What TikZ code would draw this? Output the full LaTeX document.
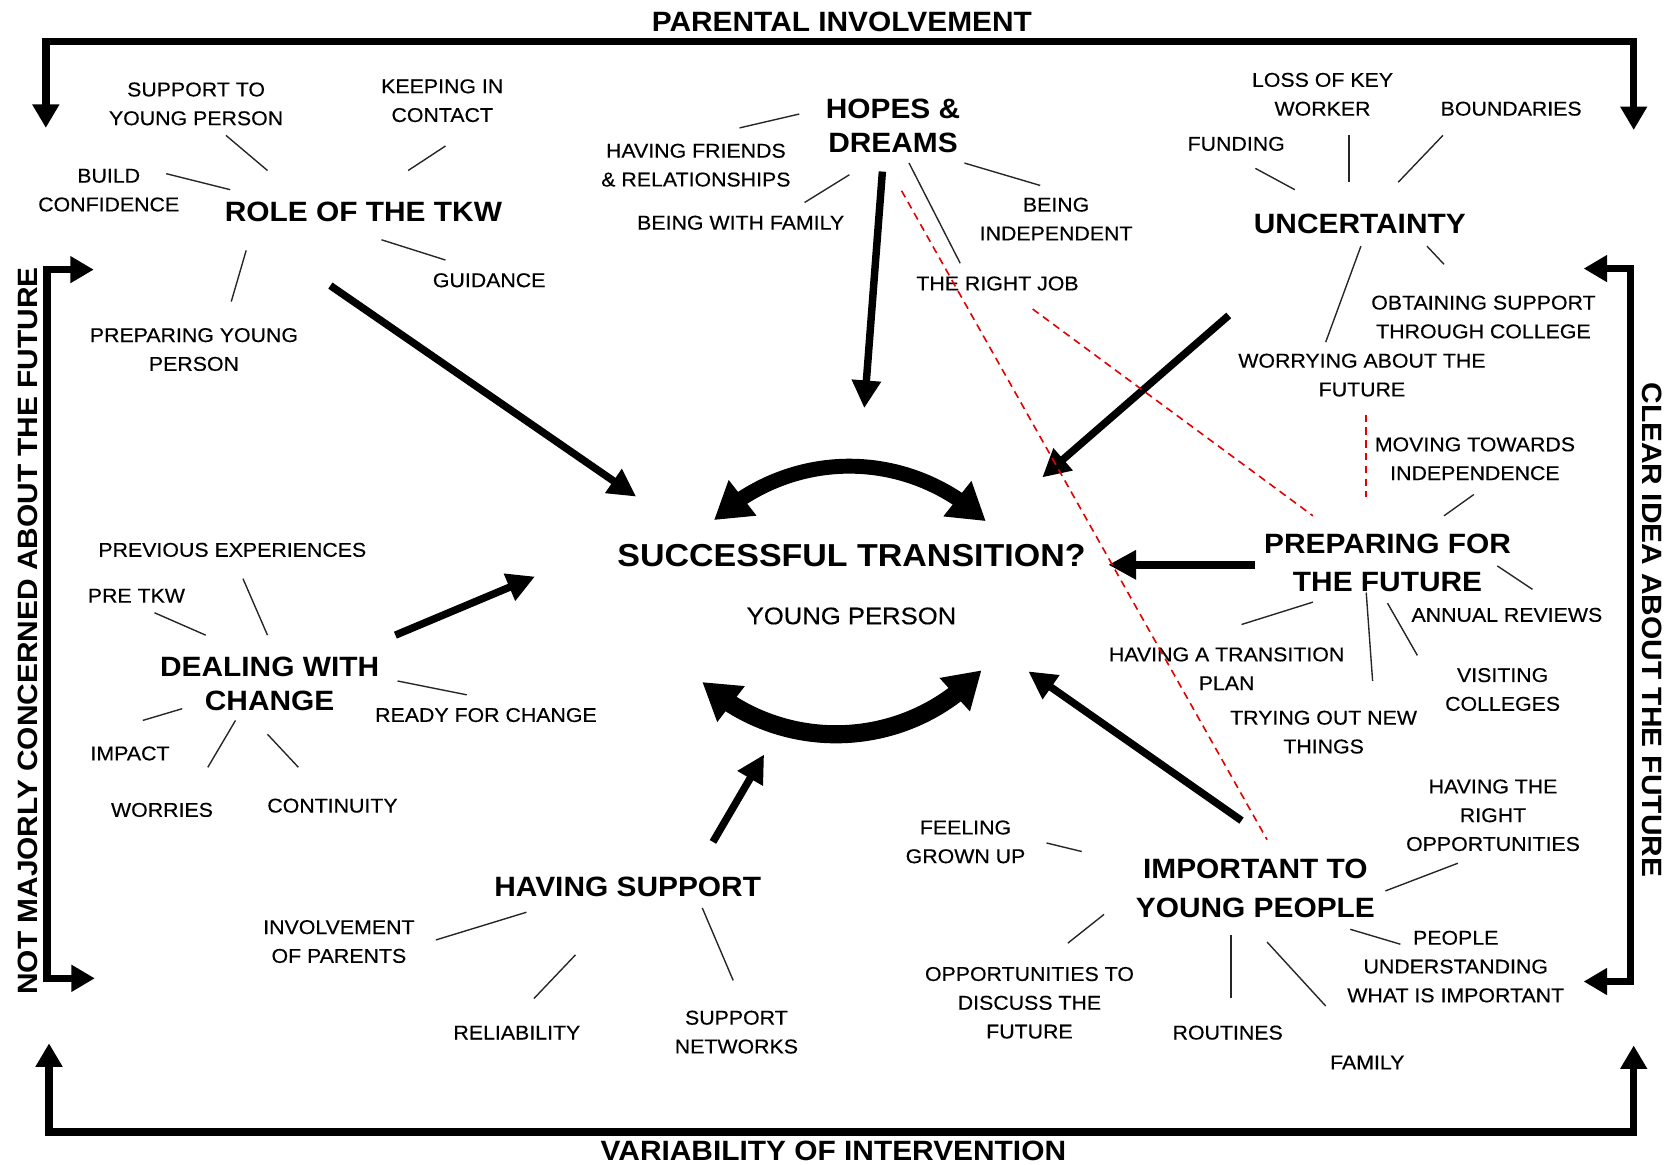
\documentclass[tikz,border=0pt]{standalone}
\usepackage{fontspec}
\setmainfont[FakeStretch=1.07]{Liberation Sans}
\newfontfamily\lblfont[FakeStretch=1.07,FakeBold=0.35]{Liberation Sans}
\usetikzlibrary{arrows.meta,bending}

\begin{document}
\begin{tikzpicture}[x=1pt,y=-1pt,
  lbl/.style={font=\lblfont\fontsize{18.7}{27}\selectfont, align=center, inner sep=0pt, text=black},
  head/.style={font=\bfseries\fontsize{26.2}{32}\selectfont, align=center, inner sep=0pt},
  spoke/.style={line width=1.3pt, black!85},
  flow/.style={line width=7pt, -{Triangle[width=26pt,length=26pt]}},
  rail/.style={line width=7pt, line join=miter, line cap=butt},
  railtip/.tip={Triangle[width=24pt,length=22pt]},
  swingtip/.tip={Triangle[width=40pt,length=34pt]},
  link/.style={draw=red!90!black, line width=1.5pt, dash pattern=on 7pt off 5pt}
]
% canvas
\fill[white] (0,0) rectangle (1568,1093);
\useasboundingbox (0,0) rectangle (1568,1093);

% ---------- outer frame with the four axis labels ----------
\coordinate (tl) at (43,120);  \coordinate (tr) at (1533,122);
\coordinate (bl) at (46,979);  \coordinate (br) at (1533,981);
\coordinate (lt) at (88,253);  \coordinate (lb) at (89,918);
\coordinate (rt) at (1486,252);\coordinate (rb) at (1486,921);
\draw[rail, railtip-railtip] (tl) |- (790,39) -| (tr);
\draw[rail, railtip-railtip] (bl) |- (790,1062) -| (br);
\draw[rail, railtip-railtip] (lt) -| (44,590) |- (lb);
\draw[rail, railtip-railtip] (rt) -| (1530,590) |- (rb);

\node[head] (parent) at (790,21) {PARENTAL INVOLVEMENT};
\node[head] (variab) at (782,1080) {VARIABILITY OF INTERVENTION};
\node[head, rotate=90] (notmaj) at (26,592) {NOT MAJORLY CONCERNED ABOUT THE FUTURE};
\node[head, rotate=-90] (clear) at (1550,591) {CLEAR IDEA ABOUT THE FUTURE};

% ---------- centre ----------
\node[head, font=\bfseries\fontsize{29.8}{34}\selectfont] (succ) at (799,521) {SUCCESSFUL TRANSITION?};
\node[lbl, font=\lblfont\fontsize{22.5}{27}\selectfont] (yp) at (799,578) {YOUNG PERSON};
\coordinate (cta) at (670,488); \coordinate (ctb) at (925,489);
\coordinate (cba) at (659,640); \coordinate (cbb) at (921,629);
\draw[line width=14pt, swingtip-swingtip] (cta) to[bend left=43] (ctb);
\draw[line width=17pt, swingtip-swingtip] (cba) to[bend right=45] (cbb);

% ---------- role of the TKW ----------
\node[head] (role) at (341,199) {ROLE OF THE TKW};
\node[lbl] (sup2yp) at (184,97.5) {SUPPORT TO\\YOUNG PERSON};
\node[lbl] (keep) at (415,94.5) {KEEPING IN\\CONTACT};
\node[lbl] (build) at (102,178.5) {BUILD\\CONFIDENCE};
\node[lbl] (guid) at (459,263) {GUIDANCE};
\node[lbl] (prepyp) at (182,328) {PREPARING YOUNG\\PERSON};

% ---------- hopes & dreams ----------
\node[head] (hopes) at (838,118) {HOPES \&\\DREAMS};
\node[lbl] (friends) at (653,155) {HAVING FRIENDS\\\& RELATIONSHIPS};
\node[lbl] (withfam) at (695,209) {BEING WITH FAMILY};
\node[lbl] (indep) at (991,205.5) {BEING\\INDEPENDENT};
\node[lbl] (job) at (936,266) {THE RIGHT JOB};

% ---------- uncertainty ----------
\node[head] (unc) at (1276,210) {UNCERTAINTY};
\node[lbl] (loss) at (1241,88.5) {LOSS OF KEY\\WORKER};
\node[lbl] (bound) at (1418,102) {BOUNDARIES};
\node[lbl] (fund) at (1160,135) {FUNDING};
\node[lbl] (obtain) at (1392,297.5) {OBTAINING SUPPORT\\THROUGH COLLEGE};
\node[lbl] (worry) at (1278,352) {WORRYING ABOUT THE\\FUTURE};
\node[lbl] (moving) at (1384,430.5) {MOVING TOWARDS\\INDEPENDENCE};

% ---------- preparing for the future ----------
\node[head, font=\bfseries\fontsize{26.2}{36}\selectfont] (prep) at (1302,528) {PREPARING FOR\\THE FUTURE};
\node[lbl] (annual) at (1414,577) {ANNUAL REVIEWS};
\node[lbl] (plan) at (1151,627.5) {HAVING A TRANSITION\\PLAN};
\node[lbl] (trying) at (1242,687) {TRYING OUT NEW\\THINGS};
\node[lbl] (visit) at (1410,647) {VISITING\\COLLEGES};

% ---------- important to young people ----------
\node[head, font=\bfseries\fontsize{26.2}{37}\selectfont] (imp) at (1178,833.5) {IMPORTANT TO\\YOUNG PEOPLE};
\node[lbl] (rightopp) at (1401,765) {HAVING THE\\RIGHT\\OPPORTUNITIES};
\node[lbl] (grown) at (906,790) {FEELING\\GROWN UP};
\node[lbl] (underst) at (1366,907) {PEOPLE\\UNDERSTANDING\\WHAT IS IMPORTANT};
\node[lbl] (discuss) at (966,941) {OPPORTUNITIES TO\\DISCUSS THE\\FUTURE};
\node[lbl] (routine) at (1152,969) {ROUTINES};
\node[lbl] (family) at (1283,997) {FAMILY};

% ---------- dealing with change ----------
\node[head] (deal) at (253,642) {DEALING WITH\\CHANGE};
\node[lbl] (prev) at (218,516) {PREVIOUS EXPERIENCES};
\node[lbl] (pretkw) at (128,559) {PRE TKW};
\node[lbl] (ready) at (456,671) {READY FOR CHANGE};
\node[lbl] (impact) at (122,707) {IMPACT};
\node[lbl] (worries) at (152,760) {WORRIES};
\node[lbl] (contin) at (312,756) {CONTINUITY};

% ---------- having support ----------
\node[head] (hsup) at (589,832) {HAVING SUPPORT};
\node[lbl] (involve) at (318,883.5) {INVOLVEMENT\\OF PARENTS};
\node[lbl] (reliab) at (485,969) {RELIABILITY};
\node[lbl] (networks) at (691,968.5) {SUPPORT\\NETWORKS};

% ---------- short spokes from each theme to its sub-themes ----------
\foreach \n/\ax/\ay/\bx/\by in {
  r1/212/127/251/160, r2/418/137/383/160, r3/156/163/216/178,
  r4/358/225/418/244, r5/231/235/217/283,
  h1/750/107/694/120, h2/797/164/755/190, h3/905/153/976/174, h4/853/153/901/247,
  u1/1178/158/1215/178, u2/1266/127/1266/171, u3/1354/127/1312/171,
  u4/1339/231/1355/248, u5/1277/231/1244/321, u6/1383/464/1355/484,
  p1/1405/531/1438/553, p2/1232/565/1165/586, p3/1282/556/1288/639, p4/1302/566/1330/615,
  i1/982/791/1015/799, i2/1368/810/1300/836, i3/1267/872/1314/886,
  i4/1036/858/1002/885, i5/1155/877/1155/936, i6/1189/884/1244/944,
  d1/228/543/251/596, d2/145/575/193/596, d3/373/639/438/652,
  d4/134/676/171/665, d5/221/676/195/720, d6/251/689/280/720,
  s1/409/882/494/856, s2/501/937/540/896, s3/659/852/688/920}
  {\draw[spoke] (\ax,\ay) coordinate (\n a) -- (\bx,\by) coordinate (\n b);}

% ---------- thick arrows into the centre ----------
\coordinate (roleS) at (310,268);  \coordinate (roleE) at (597,466);
\coordinate (hopeS) at (828,161);  \coordinate (hopeE) at (811,383);
\coordinate (uncS) at (1153,296);  \coordinate (uncE) at (978,448);
\coordinate (prepS) at (1178,530); \coordinate (prepE) at (1040,530);
\coordinate (impS) at (1165,770);  \coordinate (impE) at (965,630);
\coordinate (dealS) at (371,596);  \coordinate (dealE) at (502,541);
\coordinate (supS) at (669,790);   \coordinate (supE) at (717,708);
\foreach \a in {role,hope,unc,prep,imp,deal,sup}
  \draw[flow] (\a S) -- (\a E);

% ---------- red dashed links ----------
\coordinate (k1a) at (846,179);  \coordinate (k1b) at (1189,788);
\coordinate (k2a) at (969,290);  \coordinate (k2b) at (1232,484);
\coordinate (k3a) at (1282,389); \coordinate (k3b) at (1282,466);
\draw[link] (k1a) -- (k1b);
\draw[link] (k2a) -- (k2b);
\draw[link] (k3a) -- (k3b);
\end{tikzpicture}
\end{document}
